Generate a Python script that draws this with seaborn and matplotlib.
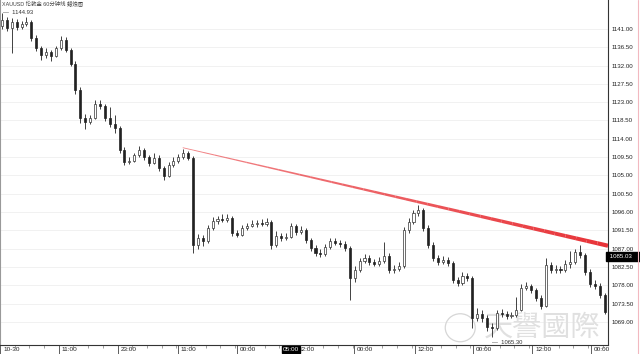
import numpy as np
import pandas as pd
import matplotlib
matplotlib.use("Agg")
import matplotlib.pyplot as plt
import seaborn as sns
from matplotlib.collections import LineCollection
from matplotlib.patches import Ellipse
from matplotlib.lines import Line2D
import matplotlib.transforms as mtransforms

sns.set_theme(style="white")
plt.rcParams['font.family'] = ['Liberation Sans', 'Noto Sans CJK SC', 'DejaVu Sans']

# ---------------- data ----------------
title_text = "XAUUSD 伦敦金 60分钟线 蜡烛图"
first_open = 1141.8
closes = [1143.2, 1141.2, 1142.7, 1141.5, 1142.2, 1142.7, 1138.8, 1136.3, 1134.6, 1135.3,
          1134.4, 1136.3, 1138.3, 1135.8, 1132.4, 1126.0, 1119.1, 1118.2, 1119.1, 1122.6,
          1122.1, 1119.1, 1117.7, 1116.7, 1111.3, 1108.3, 1108.6, 1110.0, 1111.3, 1109.5,
          1108.1, 1109.3, 1106.8, 1104.9, 1107.6, 1108.6, 1109.5, 1110.5, 1109.3, 1087.9,
          1089.6, 1088.9, 1092.1, 1093.8, 1094.3, 1094.1, 1094.6, 1090.9, 1090.4, 1092.1,
          1092.6, 1093.1, 1093.3, 1093.1, 1093.6, 1087.9, 1090.1, 1089.6, 1089.9, 1092.6,
          1091.1, 1091.6, 1089.1, 1087.2, 1086.0, 1085.7, 1087.4, 1088.9, 1088.4, 1088.2,
          1087.2, 1079.8, 1081.8, 1084.0, 1084.7, 1083.8, 1083.3, 1084.0, 1085.2, 1081.8,
          1082.0, 1082.8, 1091.6, 1093.6, 1095.8, 1096.5, 1092.1, 1087.9, 1084.7, 1083.8,
          1084.2, 1083.5, 1079.3, 1078.6, 1080.3, 1079.8, 1070.0, 1071.0, 1070.0, 1067.8,
          1067.5, 1071.2, 1071.0, 1070.5, 1070.7, 1072.0, 1077.4, 1077.9, 1076.9, 1074.9,
          1073.0, 1083.0, 1081.8, 1082.0, 1081.8, 1083.3, 1083.8, 1086.2, 1085.5, 1081.3,
          1078.3, 1077.9, 1075.6, 1071.5]
highs = [1144.93, 1143.9, 1143.6, 1143.4, 1143.0, 1143.8, 1143.1, 1139.5, 1136.9, 1136.2,
         1135.9, 1136.8, 1139.3, 1138.9, 1136.4, 1133.0, 1126.8, 1120.2, 1119.8, 1123.4,
         1123.6, 1122.6, 1121.8, 1119.9, 1117.2, 1111.9, 1109.4, 1110.6, 1112.2, 1111.8,
         1110.1, 1110.4, 1109.9, 1107.4, 1108.2, 1109.4, 1110.3, 1111.4, 1110.9, 1109.8,
         1090.6, 1090.3, 1092.9, 1094.7, 1095.0, 1095.4, 1095.6, 1095.1, 1091.6, 1092.8,
         1093.4, 1094.0, 1094.1, 1094.2, 1094.5, 1094.1, 1091.2, 1090.9, 1090.8, 1093.3,
         1093.0, 1092.5, 1092.1, 1089.7, 1087.8, 1086.9, 1088.2, 1089.7, 1089.6, 1089.1,
         1088.9, 1087.7, 1082.7, 1084.8, 1085.6, 1085.3, 1084.5, 1084.9, 1088.7, 1085.8,
         1082.9, 1083.6, 1092.4, 1094.5, 1096.6, 1097.8, 1097.0, 1092.8, 1088.5, 1085.4,
         1085.1, 1084.9, 1084.0, 1080.1, 1081.2, 1081.0, 1080.3, 1072.3, 1071.8, 1070.6,
         1068.6, 1072.0, 1072.1, 1071.7, 1071.5, 1075.2, 1078.2, 1078.8, 1078.4, 1077.4,
         1075.6, 1084.6, 1083.7, 1082.9, 1082.7, 1084.1, 1086.4, 1087.0, 1087.9, 1086.0,
         1081.9, 1079.2, 1078.6, 1076.2]
lows = [1140.9, 1140.6, 1135.1, 1140.8, 1140.9, 1141.6, 1138.0, 1135.6, 1133.4, 1133.9,
        1133.1, 1134.0, 1135.9, 1135.2, 1131.8, 1125.1, 1117.9, 1116.3, 1117.6, 1118.8,
        1121.4, 1118.3, 1116.9, 1115.3, 1110.6, 1107.6, 1107.8, 1108.2, 1109.6, 1108.8,
        1107.2, 1107.7, 1106.0, 1103.9, 1104.5, 1107.0, 1108.0, 1109.0, 1108.7, 1086.0,
        1087.0, 1087.6, 1088.4, 1091.6, 1093.1, 1093.5, 1093.6, 1090.2, 1089.8, 1090.0,
        1091.5, 1092.2, 1092.4, 1092.5, 1092.6, 1086.8, 1087.4, 1088.9, 1089.0, 1089.5,
        1090.4, 1090.6, 1088.4, 1086.5, 1085.2, 1084.9, 1085.2, 1087.0, 1087.8, 1087.5,
        1086.4, 1074.4, 1078.9, 1081.2, 1083.4, 1083.0, 1082.6, 1082.8, 1083.5, 1080.9,
        1081.0, 1081.4, 1082.3, 1090.8, 1093.0, 1094.9, 1091.2, 1087.1, 1083.9, 1082.9,
        1083.2, 1082.7, 1078.5, 1077.8, 1078.1, 1079.0, 1067.6, 1069.2, 1068.9, 1066.8,
        1065.30, 1067.1, 1070.2, 1069.6, 1069.9, 1070.1, 1071.6, 1076.8, 1076.1, 1074.1,
        1072.2, 1072.6, 1080.9, 1081.1, 1080.9, 1081.3, 1082.2, 1083.2, 1084.6, 1080.5,
        1077.5, 1077.1, 1074.8, 1070.8]
opens = [first_open] + closes[:-1]

x_tick_pos = [-0.4, 11.6, 23.6, 35.9, 48.0, 60.0, 71.8, 84.3, 96.1, 108.2, 120.2]
x_tick_labels = ["10-30", "11:00", "23:00", "11:00", "00:00", "12:00",
                 "00:00", "12:00", "00:00", "12:00", "00:00"]
y_ticks = [1069.0, 1073.5, 1078.0, 1082.5, 1087.0, 1091.5, 1096.0, 1100.5, 1105.0,
           1109.5, 1114.0, 1118.5, 1123.0, 1127.5, 1132.0, 1136.5, 1141.0]
last_price = 1085.03
cursor_time = "05:00"
cursor_x = 59.0
trend_x = [36.9, 123.7]
trend_y = [1111.8, 1087.7]
watermark = "天譽國際"

df = pd.DataFrame({"open": opens, "high": highs, "low": lows, "close": closes})
df["x"] = np.arange(len(df))
df["up"] = df["close"] >= df["open"]

# ---------------- figure ----------------
W, H = 640, 354
fig = plt.figure(figsize=(W / 100, H / 100), dpi=100)
fig.patch.set_facecolor("white")
ax = fig.add_axes([0, 9 / H, 608 / W, 345 / H])
ax.set_facecolor("white")
ax.set_xlim(-0.4, 123.7)
ax.set_ylim(1063.3, 1148.1)

# grid
ax.set_yticks(y_ticks)
ax.yaxis.grid(True, color="#efefef", lw=0.6, zorder=0)
ax.xaxis.grid(False)

# watermark
ax.text(0.796, 0.05, watermark, transform=ax.transAxes, fontsize=21, color="#e0e0e0",
        family=["Noto Sans CJK TC", "DejaVu Sans"], ha="left", va="center", zorder=1)
ax.add_patch(Ellipse((0.757, 0.05), 30 / 608, 28 / 345, transform=ax.transAxes,
                     fill=False, ec="#d6d6d6", lw=0.9, zorder=1))

# wicks
ax.vlines(df["x"], df["low"], df["high"], color="#222222", lw=0.6, zorder=3)
# bodies
body_h = (df["close"] - df["open"]).abs().clip(lower=0.12)
body_b = df[["open", "close"]].min(axis=1)
up = df[df["up"]]
dn = df[~df["up"]]
ax.bar(up["x"], body_h[df["up"]], bottom=body_b[df["up"]], width=0.42,
       color="white", edgecolor="#333333", linewidth=0.5, zorder=4)
ax.bar(dn["x"], body_h[~df["up"]], bottom=body_b[~df["up"]], width=0.42,
       color="#222222", edgecolor="#222222", linewidth=0.5, zorder=4)

# trend line with widening stroke
n = 40
tx = np.linspace(trend_x[0], trend_x[1], n + 1)
ty = np.linspace(trend_y[0], trend_y[1], n + 1)
segs = [[(tx[i], ty[i]), (tx[i + 1], ty[i + 1])] for i in range(n)]
lws = np.linspace(0.6, 3.0, n)
alphas = np.linspace(0.6, 1.0, n)
cols = [(0.91, 0.2, 0.22, a) for a in alphas]
ax.add_collection(LineCollection(segs, linewidths=lws, colors=cols, zorder=5,
                                 capstyle="butt"))

# high / low annotations
imax = int(df["high"].idxmax())
imin = int(df["low"].idxmin())
ax.annotate(f"—  {df['high'][imax]:.2f}", (df["x"][imax], df["high"][imax]),
            xytext=(1, 0), textcoords="offset points", fontsize=4.2, color="#333333",
            ha="left", va="center", zorder=6)
ax.annotate(f"—  {df['low'][imin]:.2f}", (df["x"][imin], df["low"][imin]),
            xytext=(0, -4), textcoords="offset points", fontsize=4.2, color="#333333",
            ha="left", va="center", zorder=6)

# title
ax.text(0.004, 0.996, title_text, transform=ax.transAxes, fontsize=3.9,
        color="#444444", ha="left", va="top", zorder=6)

# axes styling
ax.spines["top"].set_visible(False)
ax.spines["right"].set_color("#333333")
ax.spines["right"].set_linewidth(0.8)
ax.spines["bottom"].set_color("#333333")
ax.spines["bottom"].set_linewidth(0.8)
ax.spines["left"].set_color("#999999")
ax.spines["left"].set_linewidth(0.8)

ax.yaxis.tick_right()
ax.set_yticklabels([f"{v:.2f}" for v in y_ticks])
ax.tick_params(axis="y", which="both", right=False, left=False, length=0,
               labelsize=4.4, labelcolor="#222222", pad=2.6)

ax.set_xticks(x_tick_pos)
ax.set_xticklabels(x_tick_labels)
ax.set_xticks(np.arange(2.6, 123, 3), minor=True)
ax.tick_params(axis="x", which="major", bottom=True, length=7, width=0.6,
               color="#444444", labelsize=4.6, labelcolor="#222222", pad=-5.5)
ax.tick_params(axis="x", which="minor", bottom=True, length=2, width=0.5,
               color="#777777")
off = mtransforms.ScaledTranslation(3 / 100, 0, fig.dpi_scale_trans)
for lab in ax.get_xticklabels():
    lab.set_horizontalalignment("left")
    lab.set_transform(lab.get_transform() + off)

# last price box on the right axis
ax.text(1.0, last_price, f" {last_price:.2f}     ",
        transform=mtransforms.blended_transform_factory(ax.transAxes, ax.transData),
        fontsize=4.4, color="white", ha="left", va="center", zorder=7, clip_on=False,
        bbox=dict(boxstyle="square,pad=0.3", fc="black", ec="black"))

# cursor time box on the x axis
ax.text(cursor_x, -0.006, cursor_time,
        transform=mtransforms.blended_transform_factory(ax.transData, ax.transAxes),
        fontsize=4.6, color="white", ha="center", va="top", zorder=8, clip_on=False,
        bbox=dict(boxstyle="square,pad=0.15", fc="black", ec="black"))

# pink frame line at the far right
fig.add_artist(Line2D([638 / W, 638 / W], [0, 1], color="#f2b8c0", lw=0.8))

fig.savefig("out.png", dpi=100, facecolor="white")
